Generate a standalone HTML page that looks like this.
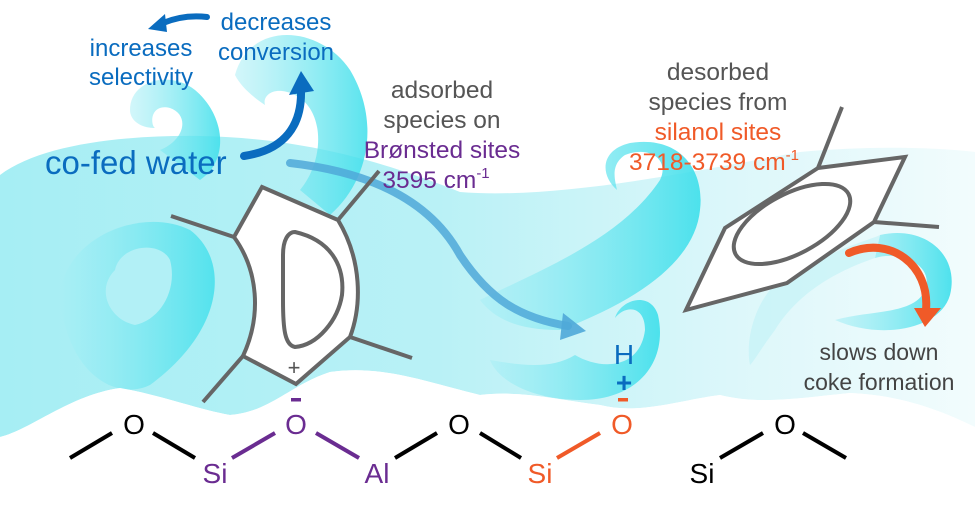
<!DOCTYPE html>
<html><head><meta charset="utf-8"><style>
html,body{margin:0;padding:0;background:#fff;width:975px;height:525px;overflow:hidden}
svg{display:block}
text{font-family:"Liberation Sans",Arial,sans-serif}
</style></head><body>
<svg width="975" height="525" viewBox="0 0 975 525" xmlns="http://www.w3.org/2000/svg">
<defs>
<linearGradient id="band" x1="0" y1="0" x2="1" y2="0">
<stop offset="0" stop-color="#a6eef4"/><stop offset="0.45" stop-color="#b9f1f6"/><stop offset="0.75" stop-color="#dcf7fa"/><stop offset="1" stop-color="#f2fcfd"/>
</linearGradient>
<linearGradient id="sw" x1="0" y1="0" x2="1" y2="0">
<stop offset="0" stop-color="#a8eef5" stop-opacity="0.6"/><stop offset="1" stop-color="#3ddfeb"/>
</linearGradient>
</defs>

<path d="M0,175 C40,145 120,135 200,136 C300,138 380,160 460,192 C560,200 700,170 800,152 C880,145 940,148 975,152 L975,427 C940,410 900,395 850,393 C800,398 760,405 720,395 C680,400 640,415 600,405 C560,400 520,390 480,395 C420,380 380,365 330,372 C290,385 270,412 230,415 C200,410 160,395 120,388 C70,395 30,430 0,437 Z" fill="url(#band)"/>

<path d="M60,300 C60,240 140,205 190,230 C230,260 225,330 150,385 C120,400 70,380 60,300 Z" fill="url(#sw)" opacity="0.8"/>
<path d="M115,270 C120,245 160,240 170,260 C178,290 160,320 135,325 C110,320 95,290 115,270 Z" fill="#b2f0f6"/>
<path d="M130,110 C130,80 170,70 195,90 C225,115 230,160 200,180 L160,150 C185,140 190,115 170,108 C150,103 150,125 155,128 C140,128 130,120 130,110Z" fill="url(#sw)" opacity="0.85"/>
<path d="M235,75 C250,20 320,25 350,70 C380,120 370,180 330,215 L300,190 C325,160 325,110 295,95 C275,85 262,95 265,105 C250,95 240,85 235,75Z" fill="url(#sw)" opacity="0.85"/>
<path d="M480,300 C540,270 620,240 660,180 C670,160 650,145 625,155 C610,165 615,180 617,190 C600,175 600,150 630,143 C680,135 705,170 700,210 C695,260 640,300 560,330 C520,330 495,320 480,300Z" fill="url(#sw)" opacity="0.9"/>
<path d="M575,355 C600,370 640,370 645,330 C645,305 625,305 615,318 C620,300 650,290 658,315 C668,360 640,400 580,400 C540,400 500,385 490,360 C520,365 550,370 575,355Z" fill="url(#sw)" opacity="0.9"/>
<path d="M835,320 C870,310 915,315 925,290 C935,265 900,250 875,258 L880,235 C925,225 960,255 950,295 C940,330 880,340 835,320Z" fill="url(#sw)" opacity="0.9"/>
<path d="M780,280 C830,250 870,240 880,235 L875,258 C840,270 800,290 775,330 C760,350 755,360 750,365 C745,340 755,300 780,280Z" fill="#bff2f7" opacity="0.6"/>

<path d="M0,437 C30,430 70,395 120,388 C160,395 200,410 230,415 C270,412 290,385 330,372 C380,365 420,380 480,395 C520,390 560,400 600,405 C640,415 680,400 720,395 C760,405 800,398 850,393 C900,395 940,410 975,427 L975,525 L0,525Z" fill="#fff"/>

<path d="M290,163 C370,172 430,200 460,255 C490,300 520,318 568,326" fill="none" stroke="#4fa8d8" stroke-width="8" stroke-linecap="round" opacity="0.85"/>
<polygon points="586,331 563,313 560,340" fill="#4fa8d8" opacity="0.9"/>

<g stroke="#666" stroke-width="4" fill="none">
<path d="M262,187 L338,220 C362,260 362,305 350,337 L296,384 L243,356 C262,315 258,270 234,237 Z" fill="#fff"/>
<path d="M295,232 C330,240 345,265 342,295 C338,320 318,345 295,347 C285,345 283,330 283,300 L283,255 C283,240 288,232 295,232Z"/>
<line x1="234" y1="237" x2="171" y2="216"/>
<line x1="338" y1="220" x2="379" y2="171"/>
<line x1="243" y1="356" x2="203" y2="402"/>
<line x1="350" y1="337" x2="412" y2="358"/>
</g>
<text x="294" y="375" font-size="22" fill="#555" text-anchor="middle">+</text>

<g stroke="#666" stroke-width="4" fill="none">
<path d="M818,168 L905,157 L874,222 L787,283 L686,310 L725,228 Z" fill="#fff"/>
<ellipse cx="792" cy="224" rx="64" ry="30" transform="rotate(-28 792 224)"/>
<line x1="818" y1="168" x2="842" y2="107"/>
<line x1="874" y1="222" x2="939" y2="227"/>
</g>

<path d="M849,253 C890,235 930,265 926,310" fill="none" stroke="#f05a28" stroke-width="8" stroke-linecap="round"/>
<polygon points="925,327 914,308 941,308" fill="#f05a28"/>

<path d="M244,156 C285,150 302,125 301,90" fill="none" stroke="#0a6cbf" stroke-width="8" stroke-linecap="round"/>
<polygon points="301,71 289,95 314,91" fill="#0a6cbf"/>
<path d="M207,17 C190,15 175,18 163,23" fill="none" stroke="#0a6cbf" stroke-width="6" stroke-linecap="round"/>
<polygon points="148,29 165,14 167,32" fill="#0a6cbf"/>

<g font-size="24" fill="#0a6cbf" text-anchor="middle">
<text x="141" y="56">increases</text><text x="141" y="85">selectivity</text>
<text x="276" y="30">decreases</text><text x="276" y="60">conversion</text>
</g>
<text x="45" y="174" font-size="33" fill="#0a6cbf">co-fed water</text>
<g font-size="24.5" text-anchor="middle">
<text x="442" y="98" fill="#555">adsorbed</text>
<text x="442" y="128" fill="#555">species on</text>
<text x="442" y="158" fill="#6a2c91">Brønsted sites</text>
<text x="436" y="188" fill="#6a2c91">3595 cm<tspan font-size="15" dy="-10">-1</tspan></text>
<text x="718" y="80" fill="#555">desorbed</text>
<text x="718" y="110" fill="#555">species from</text>
<text x="718" y="140" fill="#f05a28">silanol sites</text>
<text x="714" y="170" fill="#f05a28">3718-3739 cm<tspan font-size="15" dy="-10">-1</tspan></text>
</g>
<g font-size="23" text-anchor="middle" fill="#444">
<text x="879" y="360">slows down</text>
<text x="879" y="390">coke formation</text>
</g>

<g stroke-width="4">
<line x1="70" y1="458" x2="112" y2="433" stroke="#000"/>
<line x1="153" y1="433" x2="195" y2="458" stroke="#000"/>
<line x1="232" y1="458" x2="275" y2="433" stroke="#6a2c91"/>
<line x1="316" y1="433" x2="359" y2="458" stroke="#6a2c91"/>
<line x1="395" y1="458" x2="437" y2="433" stroke="#000"/>
<line x1="480" y1="433" x2="521" y2="458" stroke="#000"/>
<line x1="557" y1="458" x2="600" y2="433" stroke="#f05a28"/>
<line x1="720" y1="458" x2="763" y2="433" stroke="#000"/>
<line x1="803" y1="433" x2="846" y2="458" stroke="#000"/>
</g>
<rect x="291" y="398" width="10" height="3.5" fill="#6a2c91"/>
<rect x="618" y="398" width="10" height="3.5" fill="#f05a28"/>
<g font-size="28" text-anchor="middle">
<text x="134" y="434" fill="#000">O</text>
<text x="215" y="483" fill="#6a2c91">Si</text>
<text x="296" y="434" fill="#6a2c91">O</text>
<text x="377" y="483" fill="#6a2c91">Al</text>
<text x="459" y="434" fill="#000">O</text>
<text x="540" y="483" fill="#f05a28">Si</text>
<text x="622" y="434" fill="#f05a28">O</text>
<text x="624" y="364" fill="#0a6cbf" font-size="28">H</text>
<text x="624" y="392" fill="#0a6cbf" font-size="28" font-weight="bold">+</text>
<text x="702" y="483" fill="#000">Si</text>
<text x="785" y="434" fill="#000">O</text>
</g>
</svg>
</body></html>
